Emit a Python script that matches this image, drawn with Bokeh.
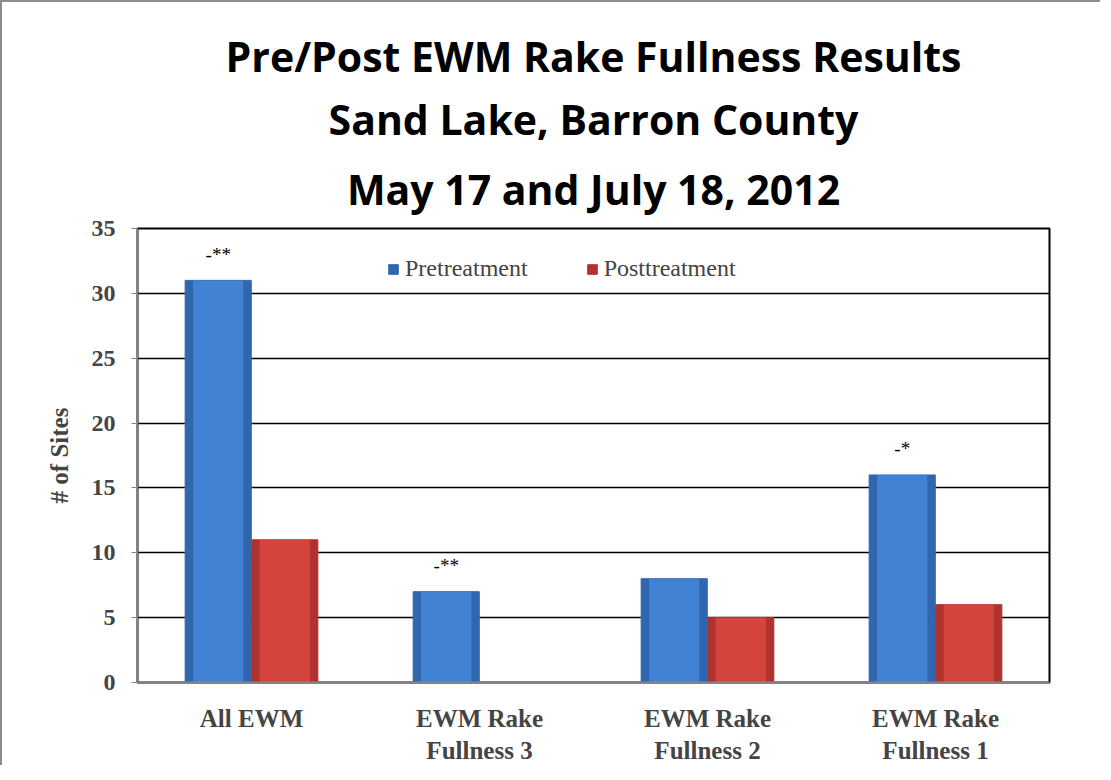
import json
from bokeh.plotting import figure
from bokeh.models import (ColumnDataSource, Range1d, FactorRange, SingleIntervalTicker, Title, Legend,
                          CategoricalAxis, InlineStyleSheet, CustomJSTickFormatter)
from bokeh.transform import dodge
from bokeh.core.properties import value
from bokeh.embed import file_html
from bokeh.resources import INLINE

categories = ["All EWM", "EWM Rake Fullness 3", "EWM Rake Fullness 2", "EWM Rake Fullness 1"]
label_line1 = ["All EWM", "EWM Rake", "EWM Rake", "EWM Rake"]
label_line2 = ["", "Fullness 3", "Fullness 2", "Fullness 1"]
pretreatment = [31, 7, 8, 16]
posttreatment = [11, 0, 5, 6]
significance = ["-**", "-**", "", "-*"]
title_lines = ["Pre/Post EWM Rake Fullness Results", "Sand Lake, Barron County", "May 17 and July 18, 2012"]

src = ColumnDataSource(dict(cat=categories, pre=pretreatment, post=posttreatment, sig=significance))

p = figure(width=1100, height=765, x_range=FactorRange(*categories), y_range=Range1d(0, 35),
           output_backend="svg", toolbar_location=None, title=None,
           min_border_left=135, min_border_right=53, min_border_bottom=85, min_border_top=0)
p.stylesheets = [InlineStyleSheet(css=":host { border-top: 2px solid #8c8c8c; border-left: 2px solid #8c8c8c; }")]

title_font = "Open Sans"
standoffs = [23, 1, 10]
for i, line in enumerate(reversed(title_lines)):
    t = Title(text=line, align="center", text_font=title_font, text_font_size="41px",
              text_font_style="bold", text_color="black", standoff=standoffs[i])
    p.add_layout(t, "above")
p.add_layout(Title(text=" ", text_font_size="14px", standoff=0), "above")

blue_edge, blue_fill = "#3066ae", "#4282d2"
red_edge, red_fill = "#b1332f", "#d4453f"

r1 = p.vbar(x=dodge("cat", -0.146, range=p.x_range), top="pre", width=0.29, source=src,
            fill_color=blue_edge, line_color=blue_edge)
p.vbar(x=dodge("cat", -0.146, range=p.x_range), top="pre", width=0.22, source=src,
       fill_color=blue_fill, line_color=None)
r2 = p.vbar(x=dodge("cat", 0.146, range=p.x_range), top="post", width=0.29, source=src,
            fill_color=red_edge, line_color=red_edge)
p.vbar(x=dodge("cat", 0.146, range=p.x_range), top="post", width=0.22, source=src,
       fill_color=red_fill, line_color=None)

p.text(x=dodge("cat", -0.146, range=p.x_range), y="pre", text="sig", source=src,
       y_offset=-26, text_align="center", text_baseline="middle",
       text_font=value("Liberation Serif"), text_font_size="19px", text_color="black")

legend = Legend(items=[("Pretreatment", [r1]), ("Posttreatment", [r2])],
                orientation="horizontal", location=(250, 400),
                label_text_font="Liberation Serif", label_text_font_size="24px",
                glyph_width=12, glyph_height=12, label_standoff=6, spacing=58,
                padding=0, margin=0, border_line_color=None, background_fill_alpha=0)
p.add_layout(legend, "center")

p.yaxis.ticker = SingleIntervalTicker(interval=5)
p.yaxis.axis_label = "# of Sites"
p.yaxis.axis_label_text_font = "Liberation Serif"
p.yaxis.axis_label_text_font_style = "bold"
p.yaxis.axis_label_text_font_size = "25px"
p.yaxis.axis_label_standoff = 16
p.yaxis.major_label_text_font = "Liberation Serif"
p.yaxis.major_label_text_font_style = "bold"
p.yaxis.major_label_text_font_size = "24px"
p.yaxis.major_label_standoff = 16
p.yaxis.major_tick_out = 6
p.yaxis.major_tick_in = 0
p.yaxis.minor_tick_line_color = None
p.yaxis.axis_line_color = "#868686"
p.yaxis.major_tick_line_color = "#868686"
p.yaxis.axis_line_width = 1.5

def style_x(ax, labels, standoff):
    mapping = json.dumps(dict(zip(categories, labels)))
    ax.formatter = CustomJSTickFormatter(code=f"const m = {mapping}; return (tick in m) ? m[tick] : tick;")
    ax.major_label_text_font = "Liberation Serif"
    ax.major_label_text_font_style = "bold"
    ax.major_label_text_font_size = "25px"
    ax.major_label_standoff = standoff
    ax.major_tick_line_color = None
    ax.minor_tick_line_color = None
    ax.major_tick_out = 0
    ax.major_tick_in = 0

style_x(p.xaxis[0], label_line1, 22)
p.xaxis[0].axis_line_color = "#868686"
p.xaxis[0].axis_line_width = 2

x2 = CategoricalAxis()
style_x(x2, label_line2, 2)
x2.axis_line_color = None
p.add_layout(x2, "below")

p.xgrid.grid_line_color = None
p.ygrid.grid_line_color = "black"
p.ygrid.grid_line_width = 1.5
p.outline_line_color = "black"
p.outline_line_width = 2
p.x_range.range_padding = 0
p.x_range.group_padding = 0

open("out.html", "w").write(file_html(p, INLINE))
